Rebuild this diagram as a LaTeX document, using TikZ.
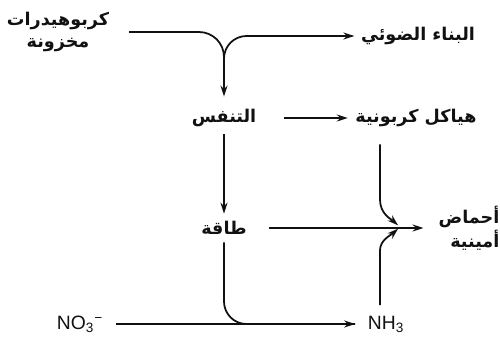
\documentclass[tikz,border=0pt]{standalone}
\usepackage{fontspec}
\setmainfont{Liberation Sans}
\newfontfamily\arabicfont[Script=Arabic]{DejaVu Sans}
\TeXXeTstate=1
\usetikzlibrary{arrows.meta, positioning, calc}
\definecolor{cink}{HTML}{111111}
\newcommand{\artext}[1]{\beginR #1\endR}
\tikzset{
  every picture/.style={line width=1pt},
  term/.style={font=\arabicfont\bfseries\fontsize{10}{12}\selectfont, text=cink, align=center, inner sep=1pt},
  chem/.style={font=\fontsize{11}{13}\selectfont, text=cink, inner sep=1pt},
  flow/.style={draw=cink},
  arrow/.style={-{Stealth[length=2.2mm, width=1.4mm]}, draw=cink},
}

\begin{document}
\begin{tikzpicture}[x=0.02cm, y=-0.02cm]
  \useasboundingbox (0,0) rectangle (500,342);
  % labels
  \node[term] (stock) at (58,32) {\artext{كربوهيدرات}\\\artext{مخزونة}};
  \node[term] (photo) at (418,36) {\artext{البناء الضوئي}};
  \node[term] (resp) at (224,118) {\artext{التنفس}};
  \node[term] (skel) at (416,118) {\artext{هياكل كربونية}};
  \node[term] (energy) at (224,228) {\artext{طاقة}};
  \node[term, align=right] (amino) at (469,228) {\artext{أحماض}\\\artext{أمينية}};
  \node[chem] (no3) at (80,324) {NO\textsubscript{3}\textsuperscript{−}};
  \node[chem] (nh3) at (386,324) {NH\textsubscript{3}};
  \coordinate (fork) at (224,60);
  \coordinate (join) at (400,227);
  % stored carbohydrates split
  \draw[flow, rounded corners=0.5cm, shorten <=0.35cm] (stock.east) -| (fork);
  \draw[arrow, rounded corners=0.45cm, shorten >=0.08cm] (fork) |- (photo.west);
  \draw[arrow, shorten >=0.2cm] (fork) -- (resp);
  % respiration
  \draw[arrow, shorten <=0.1cm, shorten >=0.1cm] (resp) -- (energy);
  \draw[arrow, shorten <=0.5cm, shorten >=0.1cm] (resp) -- (skel);
  % into amino acids
  \draw[arrow, shorten >=0.05cm] ($(skel.south)+(-36,15)$) -- ++(0,55)
    .. controls (380,214) and (391,219) .. (join);
  \draw[arrow, shorten >=0.05cm] ($(nh3.north)+(-6,-8)$) -- ++(0,-55)
    .. controls (380,240) and (391,235) .. (join);
  \draw[arrow, shorten <=0.4cm, shorten >=0.25cm] (energy) -- (amino);
  % nitrate reduction
  \draw[flow, rounded corners=0.45cm, shorten <=0.1cm, shorten >=0.2cm] (energy.south) |- (nh3.west);
  \draw[arrow, shorten <=0.2cm, shorten >=0.2cm] (no3) -- (nh3);
\end{tikzpicture}
\end{document}
